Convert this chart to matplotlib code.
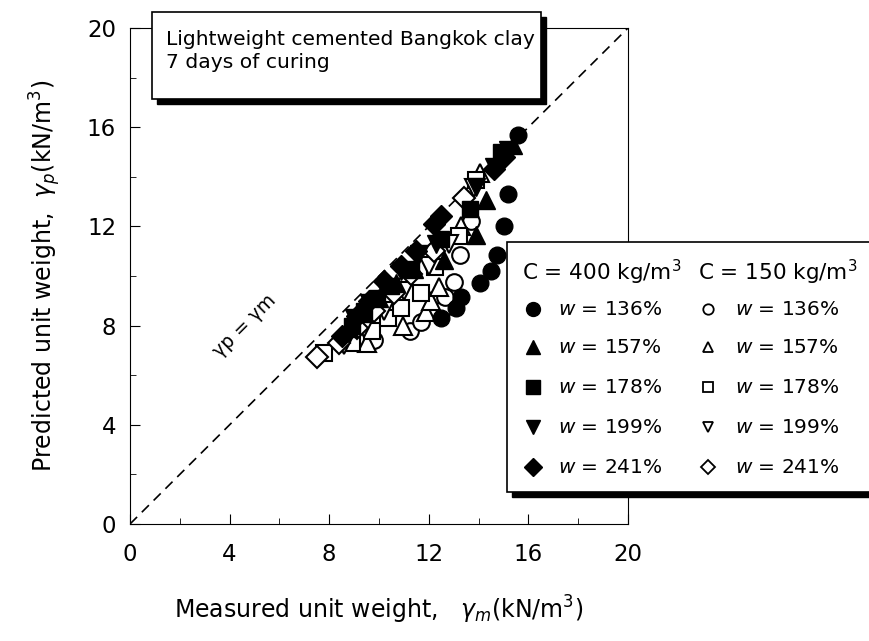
import matplotlib
matplotlib.use("Agg")
import matplotlib.pyplot as plt
from matplotlib.patches import Rectangle

plt.rcParams["font.family"] = "DejaVu Sans"
plt.rcParams["mathtext.fontset"] = "dejavusans"

# water contents and cement contents
water_labels = ["136%", "157%", "178%", "199%", "241%"]
markers = ["o", "^", "s", "v", "D"]
cement_labels = ["C = 400 kg/m$^3$", "C = 150 kg/m$^3$"]

# C = 400 kg/m3 (measured, predicted)
meas_400_136 = [12.5, 13.1, 13.3, 14.05, 14.5, 14.75, 15.0, 15.2, 15.6]
pred_400_136 = [8.3, 8.7, 9.15, 9.7, 10.2, 10.85, 12.0, 13.3, 15.7]
meas_400_157 = [8.8, 9.4, 10.0, 10.7, 11.4, 12.6, 13.9, 14.3, 15.4]
pred_400_157 = [7.9, 8.5, 9.1, 9.7, 10.3, 10.65, 11.65, 13.05, 15.3]
meas_400_178 = [8.9, 9.4, 9.9, 10.5, 11.3, 12.5, 13.65, 14.9]
pred_400_178 = [8.0, 8.6, 9.1, 9.6, 10.3, 11.5, 12.7, 15.0]
meas_400_199 = [9.0, 9.6, 10.2, 10.9, 11.6, 12.3, 13.9, 14.6, 15.2]
pred_400_199 = [8.3, 8.9, 9.5, 10.2, 10.9, 11.3, 13.6, 14.4, 15.1]
meas_400_241 = [8.5, 9.1, 9.6, 10.2, 10.9, 11.5, 12.2, 12.5, 14.6, 15.0]
pred_400_241 = [7.6, 8.4, 9.0, 9.8, 10.4, 11.0, 12.1, 12.4, 14.3, 14.8]

# C = 150 kg/m3 (measured, predicted)
meas_150_136 = [9.8, 11.25, 11.7, 12.6, 12.65, 13.0, 13.25, 13.7]
pred_150_136 = [7.4, 7.8, 8.15, 8.7, 9.15, 9.75, 10.85, 12.2]
meas_150_157 = [9.5, 10.96, 11.9, 12.1, 12.4, 13.3, 14.05]
pred_150_157 = [7.3, 8.0, 8.55, 9.0, 9.55, 12.0, 14.15]
meas_150_178 = [7.8, 8.9, 9.7, 10.36, 10.9, 11.7, 12.25, 13.2, 13.9]
pred_150_178 = [6.9, 7.3, 7.8, 8.3, 8.7, 9.3, 10.36, 11.6, 13.87]
meas_150_199 = [8.6, 9.4, 10.2, 11.0, 12.0, 12.8, 13.8]
pred_150_199 = [7.2, 7.9, 8.6, 9.4, 10.4, 11.3, 13.55]
meas_150_241 = [7.5, 8.4, 9.1, 9.8, 10.6, 11.3, 12.2, 13.4]
pred_150_241 = [6.75, 7.3, 7.9, 8.6, 9.3, 10.1, 11.0, 13.15]

series_400 = [(meas_400_136, pred_400_136), (meas_400_157, pred_400_157),
              (meas_400_178, pred_400_178), (meas_400_199, pred_400_199),
              (meas_400_241, pred_400_241)]
series_150 = [(meas_150_136, pred_150_136), (meas_150_157, pred_150_157),
              (meas_150_178, pred_150_178), (meas_150_199, pred_150_199),
              (meas_150_241, pred_150_241)]
plot_sizes = [12, 13, 11, 13, 11]

fig = plt.figure(figsize=(8.69, 6.41), dpi=100)
ax = fig.add_axes([130/869, 1-524/641, 498/869, 496/641])

# 1:1 line
ax.plot([0, 20], [0, 20], "k--", lw=1.2, dashes=(6, 4), zorder=1)
ax.text(4.6, 8.0, "γp = γm", rotation=45, fontsize=13.5, ha="center", va="center")

# open symbols first, solid ones on top
for (x, y), m, s in zip(series_150, markers, plot_sizes):
    ax.plot(x, y, m, ls="none", ms=s, mfc="white", mec="black", mew=1.5, zorder=2)
for (x, y), m, s in zip(series_400, markers, plot_sizes):
    ax.plot(x, y, m, ls="none", ms=s, mfc="black", mec="black", zorder=3)

ax.set_xlim(0, 20)
ax.set_ylim(0, 20)
ax.set_xticks([0, 4, 8, 12, 16, 20])
ax.set_yticks([0, 4, 8, 12, 16, 20])
ax.set_xticks(range(0, 21, 2), minor=True)
ax.set_yticks(range(0, 21, 2), minor=True)
ax.tick_params(which="both", direction="in", labelsize=16.5)
ax.tick_params(which="major", length=7)
ax.tick_params(which="minor", length=4)
ax.tick_params(axis="x", which="major", pad=14)
ax.tick_params(axis="y", which="major", pad=10)
ax.set_xlabel("Measured unit weight,   $\\gamma_m$(kN/m$^3$)", fontsize=17, labelpad=20)
ax.set_ylabel("Predicted unit weight,  $\\gamma_p$(kN/m$^3$)", fontsize=17, labelpad=17)


def shadow_box(x0, y0, x1, y1):
    # box given in pixels from the top-left corner, with a drop shadow
    W, H = 869, 641
    fig.add_artist(Rectangle(((x0+5)/W, 1-(y1+5)/H), (x1-x0)/W, (y1-y0)/H,
                             transform=fig.transFigure, fc="black", ec="black", zorder=4))
    fig.add_artist(Rectangle((x0/W, 1-y1/H), (x1-x0)/W, (y1-y0)/H,
                             transform=fig.transFigure, fc="white", ec="black", lw=1.2, zorder=5))


# title box
shadow_box(152, 12, 541, 99)
fig.text(166/869, 1-30/641, "Lightweight cemented Bangkok clay\n7 days of curing",
         fontsize=14.6, va="top", ha="left", linespacing=1.3, zorder=6)

# legend box
shadow_box(507, 242, 890, 492)
leg = fig.add_axes([507/869, 1-492/641, 383/869, 250/641], zorder=7)
leg.set_xlim(507, 890)
leg.set_ylim(492, 242)
leg.axis("off")
leg.patch.set_alpha(0)
leg.text(522, 272, cement_labels[0], fontsize=15.5, va="center")
leg.text(698, 272, cement_labels[1], fontsize=15.5, va="center")
row_y = [309, 347, 387, 427, 467]
for m, w, yy in zip(markers, water_labels, row_y):
    leg.plot(533, yy, m, ms=10 if m != "D" else 9, mfc="black", mec="black", clip_on=False)
    leg.plot(708, yy, m, ms=7.5 if m != "D" else 7, mfc="white", mec="black", mew=1.3, clip_on=False)
    leg.text(558, yy, "$w$ = " + w, fontsize=14.5, va="center")
    leg.text(735, yy, "$w$ = " + w, fontsize=14.5, va="center")

fig.savefig("out.png", dpi=100)
